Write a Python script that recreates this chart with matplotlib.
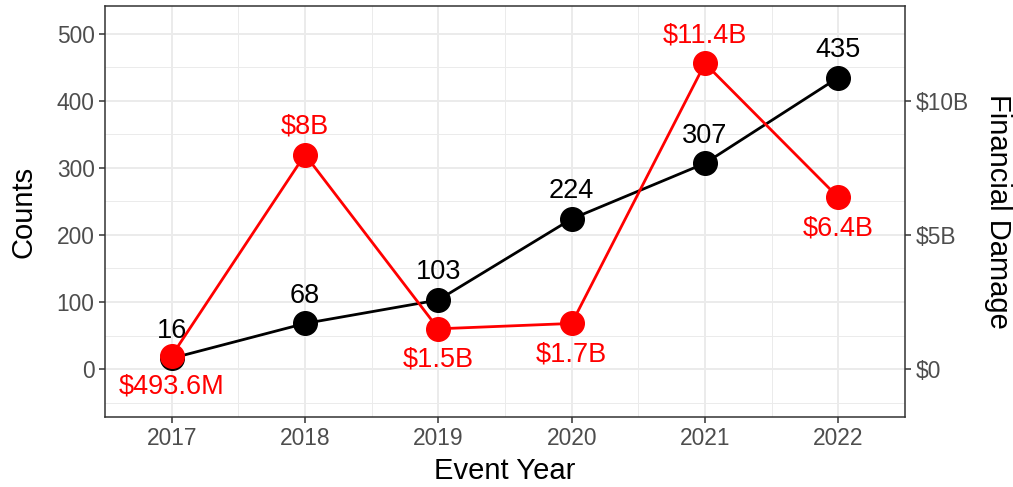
import matplotlib.pyplot as plt
from matplotlib.ticker import MultipleLocator, FixedLocator

# data
years = [2017, 2018, 2019, 2020, 2021, 2022]
counts = [16, 68, 103, 224, 307, 435]
damage_b = [0.4936, 8.0, 1.5, 1.7, 11.4, 6.4]   # billions of dollars
damage_labels = ['$493.6M', '$8B', '$1.5B', '$1.7B', '$11.4B', '$6.4B']
damage_above = [False, True, False, False, True, False]
right_ticks = [0, 5, 10]
right_tick_labels = ['$0', '$5B', '$10B']

scale = 40  # counts per billion on the shared axis

plt.rcParams['font.family'] = ['Liberation Sans', 'DejaVu Sans']

fig, ax = plt.subplots(figsize=(10.13, 4.87), dpi=100)
fig.subplots_adjust(left=105 / 1013, right=905 / 1013, bottom=1 - 417 / 487, top=1 - 6 / 487)

# grid
ax.set_xlim(2016.5, 2022.5)
ax.set_ylim(-71.6, 541.7)
ax.xaxis.set_major_locator(FixedLocator(years))
ax.xaxis.set_minor_locator(FixedLocator([y + 0.5 for y in years[:-1]]))
ax.yaxis.set_major_locator(MultipleLocator(100))
ax.yaxis.set_minor_locator(MultipleLocator(50))
ax.grid(which='major', color='#EBEBEB', lw=1.4)
ax.grid(which='minor', color='#EBEBEB', lw=0.7)
ax.set_axisbelow(True)
for s in ax.spines.values():
    s.set_color('#333333')
    s.set_linewidth(1.1)

# counts
ax.plot(years, counts, color='black', lw=2, marker='o', ms=17, zorder=3)
for x, c in zip(years, counts):
    ax.annotate(str(c), (x, c), xytext=(0, 20), textcoords='offset points',
                ha='center', va='center', fontsize=19.5, color='black')

# damage, scaled onto counts axis
dmg = [d * scale for d in damage_b]
ax.plot(years, dmg, color='#FF0000', lw=2, marker='o', ms=17, zorder=4)
for x, d, lab, up in zip(years, dmg, damage_labels, damage_above):
    ax.annotate(lab, (x, d), xytext=(0, 20 if up else -22), textcoords='offset points',
                ha='center', va='center', fontsize=19.5, color='#FF0000')

ax.tick_params(which='major', colors='#333333', labelcolor='#4D4D4D', labelsize=16.4, length=4, width=1.1)
ax.tick_params(which='minor', length=0)
ax.set_xlabel('Event Year', fontsize=21, labelpad=5)
ax.set_ylabel('Counts', fontsize=21, labelpad=14)

ax2 = ax.twinx()
ax2.set_ylim(ax.get_ylim())
ax2.set_yticks([t * scale for t in right_ticks])
ax2.set_yticklabels(right_tick_labels)
ax2.tick_params(colors='#333333', labelcolor='#4D4D4D', labelsize=16.4, length=4, width=1.1)
ax2.set_ylabel('Financial Damage', fontsize=21, rotation=-90, labelpad=31)
for s in ax2.spines.values():
    s.set_visible(False)

fig.savefig('out.png')
